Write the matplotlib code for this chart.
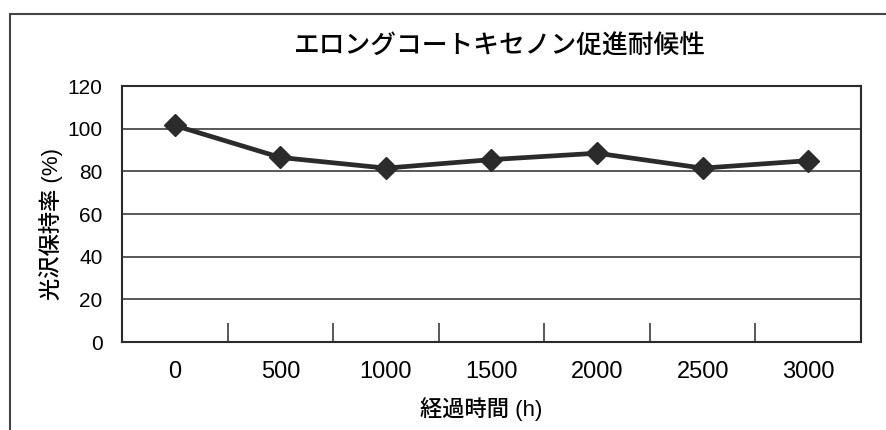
import matplotlib
matplotlib.use("Agg")
import matplotlib.pyplot as plt
from matplotlib.patches import Rectangle

plt.rcParams['font.family'] = ['Liberation Sans', 'Noto Sans CJK JP', 'DejaVu Sans']

hours = ['0', '500', '1000', '1500', '2000', '2500', '3000']
gloss = [101.5, 86.5, 81.5, 85.5, 88.5, 81.5, 85.0]
yticks = [0, 20, 40, 60, 80, 100, 120]

title = 'エロングコートキセノン促進耐候性'
xlabel = '経過時間 (h)'
ylabel = '光沢保持率 (%)'

ink = '#2b2b2b'

fig = plt.figure(figsize=(8.87, 4.3), dpi=100)
ax = fig.add_axes([122/887, 1 - 342/430, (861-122)/887, (342-86)/430])

# outer frame of the chart area (only left and top edges visible)
fig.add_artist(Rectangle((10/887, -0.1), 1.2, 1 - 14/430 + 0.1,
                         transform=fig.transFigure, fill=False,
                         edgecolor='#444444', linewidth=1.5))

x = list(range(len(hours)))
ax.plot(x, gloss, color=ink, linewidth=3.4, marker='D', markersize=11,
        markerfacecolor=ink, markeredgecolor=ink, zorder=3)

ax.set_xlim(-0.5, len(hours) - 0.5)
ax.set_ylim(0, 120)
ax.set_yticks(yticks)
for v in yticks[1:-1]:
    ax.axhline(v, color=ink, linewidth=1.1, zorder=1)

# category ticks between groups, pointing up into the plot
ax.set_xticks([i + 0.5 for i in range(len(hours) - 1)], minor=True)
ax.set_xticks(x)
ax.set_xticklabels(hours, fontsize=17)
ax.tick_params(axis='x', which='major', length=0, pad=14)
ax.tick_params(axis='x', which='minor', direction='in', length=14,
               width=1.1, color=ink)
ax.tick_params(axis='y', length=0, pad=14, labelsize=15)

for s in ax.spines.values():
    s.set_color(ink)
    s.set_linewidth(1.5)

ax.set_xlabel(xlabel, fontsize=16, fontweight='medium')
ax.set_ylabel(ylabel, fontsize=16, fontweight='medium')
ax.xaxis.set_label_coords(0.486, -0.215)
ax.yaxis.set_label_coords(-0.08, 0.46)
fig.text(500/887, 1 - 47/430, title, fontsize=18.5, ha='center',
         va='center', fontweight='medium')

fig.savefig('out.png', dpi=100)
